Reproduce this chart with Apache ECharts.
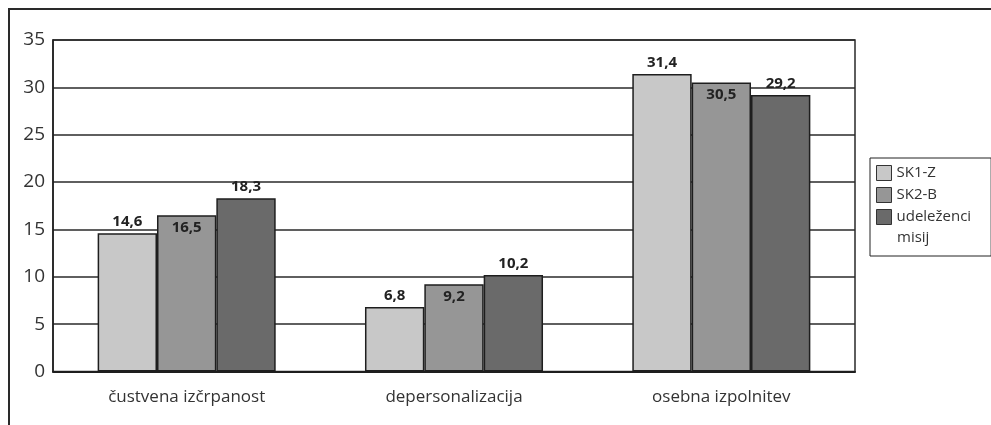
<!DOCTYPE html>
<html>
<head>
<meta charset="utf-8">
<script src="https://cdn.jsdelivr.net/npm/echarts@6/dist/echarts.min.js"></script>
<style>
  html, body { margin: 0; padding: 0; background: #fff; }
  #chart { width: 991px; height: 425px; }
</style>
</head>
<body>
<div id="chart"></div>
<script>
// Burnout dimensions by group
const categories = ['čustvena izčrpanost', 'depersonalizacija', 'osebna izpolnitev'];
const seriesNames = ['SK1-Z', 'SK2-B', 'udeleženci misij'];
const sk1z = [14.6, 6.8, 31.4];
const sk2b = [16.5, 9.2, 30.5];
const udelezenci = [18.3, 10.2, 29.2];
const yTicks = [0, 5, 10, 15, 20, 25, 30, 35];

const FONT = '"Open Sans", "Noto Sans", sans-serif';
const fmt = p => String(p.value).replace('.', ',');

function barSeries(name, data, color, labelPos, dist) {
  return {
    name: name,
    type: 'bar',
    data: data,
    barGap: '0%',
    barCategoryGap: '33.4%',
    itemStyle: { color: color, borderColor: '#1e1e1e', borderWidth: 1.5 },
    label: {
      show: true,
      position: labelPos,
      distance: dist,
      formatter: fmt,
      fontFamily: FONT,
      fontWeight: 'bold',
      fontSize: 15,
      color: '#222'
    }
  };
}

const chart = echarts.init(document.getElementById('chart'), null, { renderer: 'canvas' });
chart.setOption({
  animation: false,
  backgroundColor: '#fff',
  textStyle: { fontFamily: FONT },
  graphic: [
    {
      // outer frame
      type: 'rect',
      shape: { x: 9, y: 9, width: 1000, height: 500 },
      style: { fill: 'none', stroke: '#2a2a2a', lineWidth: 2 },
      silent: true,
      z: 100
    },
    {
      // second line of the wrapped legend entry
      type: 'text',
      left: 897,
      top: 227,
      style: { text: 'misij', fontFamily: FONT, fontSize: 15, fill: '#333', lineHeight: 22 },
      silent: true,
      z: 100
    }
  ],
  grid: {
    left: 53, top: 40, right: 136, bottom: 53.5,
    show: true, borderColor: '#2a2a2a', borderWidth: 1.5, backgroundColor: 'transparent'
  },
  legend: {
    orient: 'vertical',
    left: 870,
    top: 158,
    icon: 'rect',
    itemWidth: 15,
    itemHeight: 15,
    itemGap: 0,
    padding: [4, 20, 28, 6],
    borderColor: '#222',
    borderWidth: 1,
    borderRadius: 0,
    textStyle: { fontFamily: FONT, fontSize: 15, color: '#333', lineHeight: 22 },
    formatter: n => n === 'udeleženci misij' ? 'udeleženci' : n,
    data: seriesNames,
    itemStyle: { borderColor: '#333', borderWidth: 1 }
  },
  xAxis: {
    type: 'category',
    data: categories,
    axisLine: { lineStyle: { color: '#1e1e1e', width: 2 } },
    axisTick: { show: false },
    axisLabel: { fontFamily: FONT, fontSize: 17, color: '#333', margin: 17 }
  },
  yAxis: {
    type: 'value',
    min: yTicks[0],
    max: yTicks[yTicks.length - 1],
    interval: 5,
    axisLine: { show: true, lineStyle: { color: '#1e1e1e', width: 1.5 } },
    axisTick: { show: false },
    axisLabel: { fontFamily: FONT, fontSize: 19, color: '#333', margin: 8 },
    splitLine: { lineStyle: { color: '#2a2a2a', width: 1.5 } }
  },
  series: [
    barSeries(seriesNames[0], sk1z, '#c8c8c8', 'top', 4),
    barSeries(seriesNames[1], sk2b, '#969696', 'insideTop', 5),
    barSeries(seriesNames[2], udelezenci, '#6a6a6a', 'top', 4)
  ]
});
</script>
</body>
</html>
